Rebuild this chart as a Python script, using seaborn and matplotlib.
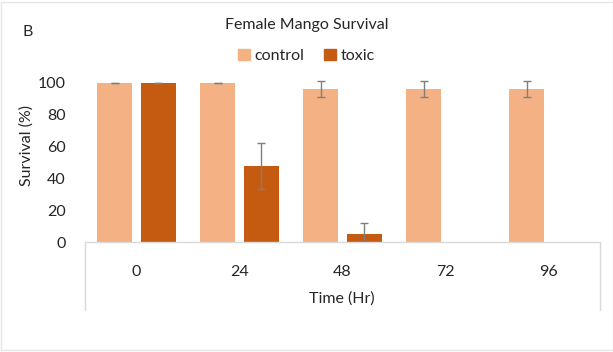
import numpy as np
import pandas as pd
import seaborn as sns
import matplotlib.pyplot as plt
from matplotlib.patches import Rectangle
from matplotlib.lines import Line2D

# Survival data (mean % and error) per time point
times = ["0", "24", "48", "72", "96"]
groups = ["control", "toxic"]
control = [100, 100, 96, 96, 96]
control_err = [0, 0, 5, 5, 5]
toxic = [100, 48, 5, 0, 0]
toxic_err = [0, 14.5, 7, np.nan, np.nan]
colors = ["#F4B183", "#C55A11"]

df = pd.DataFrame({
    "Time": times * 2,
    "Survival": control + toxic,
    "Group": ["control"] * len(times) + ["toxic"] * len(times),
})

sns.set_theme(style="white")
plt.rcParams["font.family"] = ["Lato", "DejaVu Sans"]
text_color = "#262626"

W, H = 613, 352
fig = plt.figure(figsize=(W / 100, H / 100), dpi=100)
ax = fig.add_axes([85 / W, 110 / H, 515 / W, 167 / H])

sns.barplot(data=df, x="Time", y="Survival", hue="Group", order=times,
            hue_order=groups, palette=colors, width=0.84, gap=0.19,
            errorbar=None, saturation=1, legend=False, linewidth=0, ax=ax)

# error bars centred on each drawn bar
for cont, vals, errs in zip(ax.containers, [control, toxic], [control_err, toxic_err]):
    xs = [p.get_x() + p.get_width() / 2 for p in cont]
    ax.errorbar(xs, vals, yerr=errs, fmt="none", ecolor="#7f7f7f",
                elinewidth=1, capsize=2.6, capthick=1, zorder=5)

ax.set_xlim(-0.5, len(times) - 0.5)
ax.set_ylim(0, 105)
ax.set_yticks(range(0, 101, 20))
for s in ax.spines.values():
    s.set_visible(False)
ax.set_xlabel("")
ax.set_ylabel("")
ax.tick_params(axis="both", length=0, labelsize=11.5, colors=text_color)
ax.tick_params(axis="x", pad=16.5)
ax.tick_params(axis="y", pad=14)

# category axis box
line_kw = dict(color="#d9d9d9", lw=1, transform=ax.transAxes, clip_on=False)
depth = (310 - 242) / 167
ax.add_line(Line2D([0, 1], [0, 0], **line_kw))
ax.add_line(Line2D([0, 0], [0, -depth], **line_kw))
ax.add_line(Line2D([1, 1], [0, -depth], **line_kw))

fig.text(342 / W, 1 - 299 / H, "Time (Hr)", ha="center", va="center",
         fontsize=11.5, color=text_color)
fig.text(27 / W, 1 - 146 / H, "Survival (%)", ha="center", va="center",
         rotation=90, fontsize=11.5, color=text_color)
fig.text(0.5, 1 - 25 / H, "Female Mango Survival", ha="center", va="center",
         fontsize=11.5, color=text_color)
fig.text(28 / W, 1 - 32 / H, "B", ha="center", va="center",
         fontsize=11.5, color=text_color)

handles = [Rectangle((0, 0), 1, 1, color=c) for c in colors]
fig.legend(handles, groups, loc="center", bbox_to_anchor=(0.5, 1 - 56 / H),
           ncol=2, frameon=False, fontsize=11.5, handlelength=0.75,
           handleheight=0.75, handletextpad=0.3, columnspacing=1.2,
           labelcolor=text_color)

# light frame around the whole figure
fig.add_artist(Rectangle((1 / W, 2 / H), 1 - 1 / W, 1 - 4 / H, fill=False,
                         edgecolor="#e6e6e6", lw=1, transform=fig.transFigure))

fig.savefig("out.png", dpi=100)
